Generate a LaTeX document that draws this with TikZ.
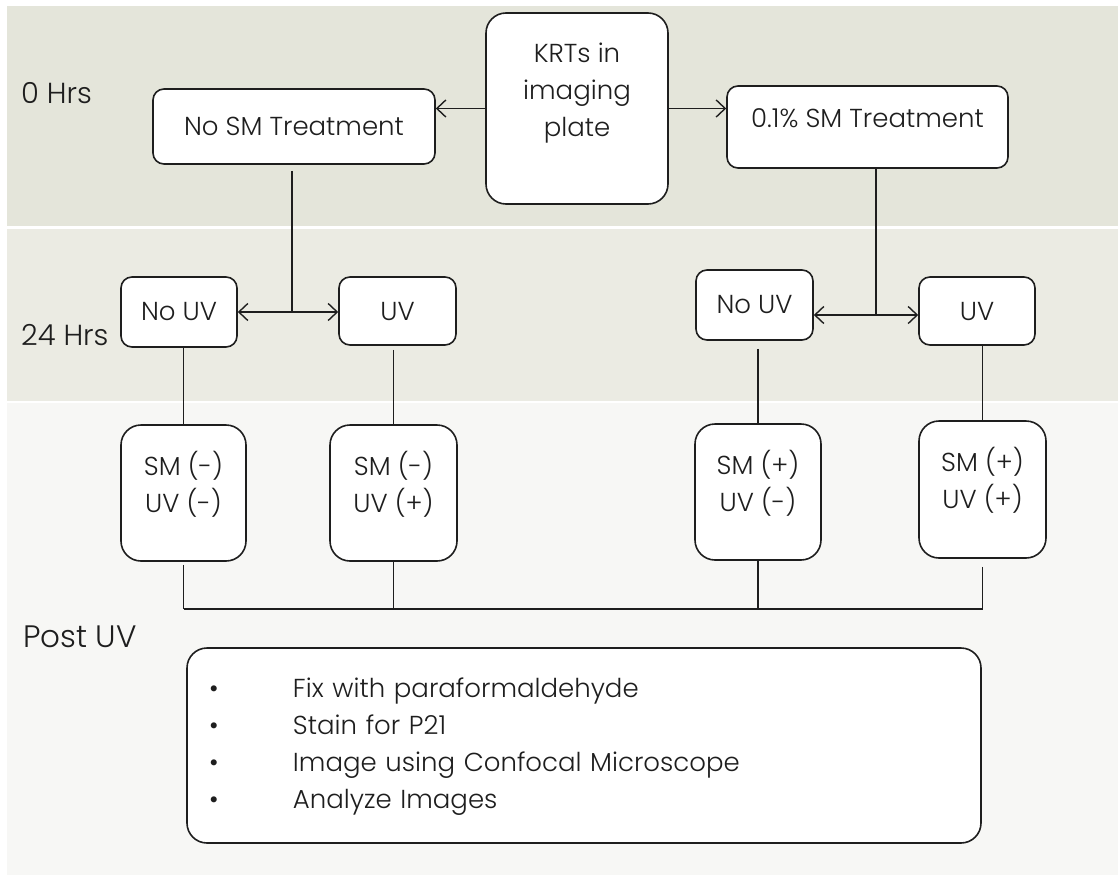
\documentclass[tikz,border=0pt]{standalone}
\usepackage{fontspec}
\setmainfont{Poppins Light}
\usetikzlibrary{arrows.meta, positioning}

\definecolor{bandA}{HTML}{E4E5DA}
\definecolor{bandB}{HTML}{EBEBE3}
\definecolor{bandC}{HTML}{F7F7F5}
\definecolor{ink}{HTML}{1E1E1E}

\tikzset{
    box/.style={draw=ink, line width=1.6pt, fill=white, rounded corners=11pt,
        align=center, text=ink, font=\fontsize{26}{37}\selectfont},
    bigbox/.style={box, rounded corners=20pt},
    link/.style={draw=ink, line width=1.4pt},
    hours/.style={anchor=base west, text=ink, inner sep=0pt, font=\fontsize{29}{35}\selectfont}
}

\begin{document}
\begin{tikzpicture}[x=1pt, y=-1pt, >={Straight Barb[length=9pt,width=17pt]}]
    \useasboundingbox (0,0) rectangle (1118,878);
    \fill[bandA] (7,6) rectangle (1118,226);
    \fill[bandB] (7,229) rectangle (1118,401);
    \fill[bandC] (7,403) rectangle (1118,875);

    \node[hours] (h0) at (21,103) {0 Hrs};
    \node[hours] (h24) at (21,345) {24 Hrs};
    \node[hours, font=\fontsize{31}{37}\selectfont] (hpost) at (23,647) {Post UV};

    \node[bigbox, minimum width=182pt, minimum height=191pt] (krt) at (577,108.5) {KRTs in\\imaging\\plate\\\mbox{}};
    \node[box, minimum width=282pt, minimum height=75pt] (nosm) at (294,126.5) {No SM Treatment};
    \node[box, minimum width=281pt, minimum height=82pt] (sm) at (867.5,127) {0.1\% SM Treatment\\[-19pt]\mbox{}};

    \node[box, minimum width=116pt, minimum height=70pt] (nuvA) at (179,312) {No UV};
    \node[box, minimum width=117pt, minimum height=68pt] (uvA) at (397.5,311) {UV};
    \node[box, minimum width=117pt, minimum height=70pt] (nuvB) at (754.5,305) {No UV};
    \node[box, minimum width=116pt, minimum height=68pt] (uvB) at (977,311) {UV};

    \node[bigbox, minimum width=125pt, minimum height=136pt] (c1) at (183.5,493) {SM (-)\\UV (-)\\[-14pt]\mbox{}};
    \node[bigbox, minimum width=127pt, minimum height=136pt] (c2) at (393.5,493) {SM (-)\\UV (+)\\[-14pt]\mbox{}};
    \node[bigbox, minimum width=126pt, minimum height=136pt] (c3) at (758,492) {SM (+)\\UV (-)\\[-14pt]\mbox{}};
    \node[bigbox, minimum width=127pt, minimum height=137pt] (c4) at (982.5,489.5) {SM (+)\\UV (+)\\[-14pt]\mbox{}};

    \node[bigbox, minimum width=794pt, minimum height=195pt, text width=750pt, align=left] (steps) at (584,745.5) {%
        \begin{tabular}{@{}p{84pt}@{}l@{}}
            \textbullet & Fix with paraformaldehyde\\
            \textbullet & Stain for P21\\
            \textbullet & Image using Confocal Microscope\\
            \textbullet & Analyze Images
        \end{tabular}};

    \coordinate (forkA) at (292,312);
    \coordinate (forkB) at (876,315);
    \coordinate (bus) at (0,609);

    \draw[link, ->] (krt.west) -- (krt.west -| nosm.east);
    \draw[link, ->] (krt.east) -- (krt.east -| sm.west);

    \draw[link, shorten <=6pt] (forkA |- nosm.south) -- (forkA);
    \draw[link, <->] (forkA -| nuvA.east) -- (forkA -| uvA.west);
    \draw[link] (forkB |- sm.south) -- (forkB);
    \draw[link, <->] (forkB -| nuvB.east) -- (forkB -| uvB.west);

    \draw[link] (c1.north |- nuvA.south) -- (c1.north);
    \draw[link, shorten <=4pt] (c2.north |- uvA.south) -- (c2.north);
    \draw[link, shorten <=8pt] (c3.north |- nuvB.south) -- (c3.north);
    \draw[link] (c4.north |- uvB.south) -- (c4.north);

    \draw[link, shorten <=3pt] (c1.south) -- (c1.south |- bus);
    \draw[link] (c2.south) -- (c2.south |- bus);
    \draw[link] (c3.south) -- (c3.south |- bus);
    \draw[link, shorten <=8pt] (c4.south) -- (c4.south |- bus);
    \draw[link] (c1.south |- bus) -- (c4.south |- bus);
\end{tikzpicture}
\end{document}
